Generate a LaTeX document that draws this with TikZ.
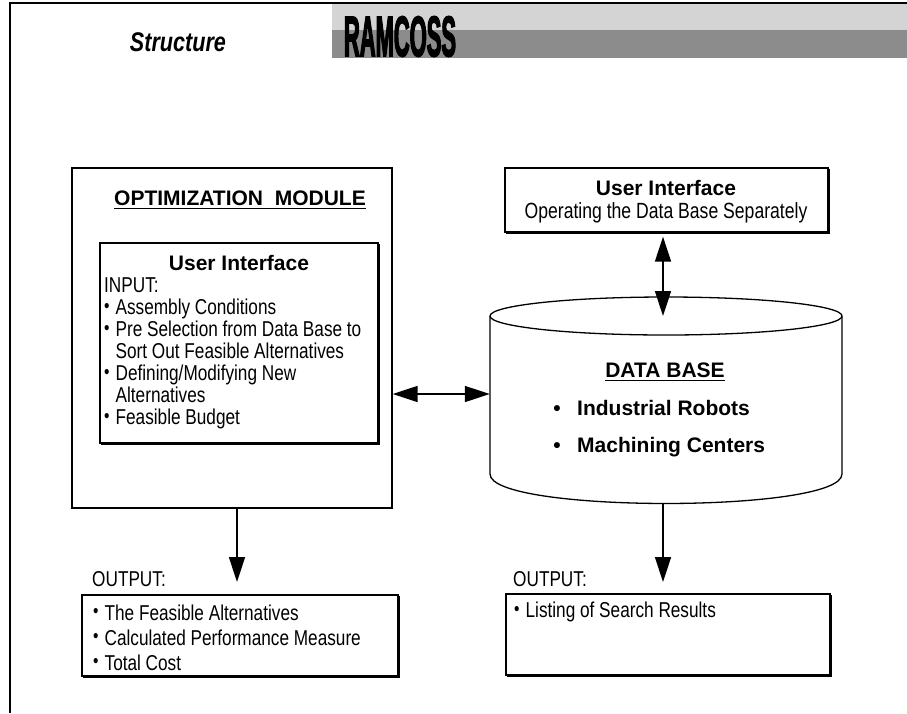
\documentclass[tikz,border=0pt]{standalone}
\usepackage{fontspec}
\setmainfont{Liberation Sans}
\newfontfamily\nar[FakeStretch=0.80]{Liberation Sans}
\newfontfamily\heavy[FakeStretch=0.55,FakeBold=2.5]{Liberation Sans Bold}
\usetikzlibrary{arrows.meta,calc}
\newcommand\mybul{\raisebox{0.22ex}{\scalebox{0.9}{\textbullet}}\hspace{0.28em}}
\begin{document}
\begin{tikzpicture}[x=1pt,y=-1pt,
  boxed/.style={draw, line width=1.3pt, inner sep=0pt},
  nartxt/.style={font=\nar\fontsize{21.5}{22}\selectfont, inner sep=0pt, align=left},
  boldtxt/.style={font=\bfseries\fontsize{21}{24}\selectfont, inner sep=0pt},
  shadowline/.style={line width=1.1pt},
  arr/.style={line width=1.5pt, -{Triangle[length=25pt,width=16pt]}},
  dblarr/.style={line width=1.5pt, {Triangle[length=25pt,width=16pt]}-{Triangle[length=25pt,width=16pt]}}]
\useasboundingbox (0,0) rectangle (907,713);
% header
\fill[black!17] (332,3) rectangle (907,30);
\fill[black!45] (332,30) rectangle (907,58);
\draw[line width=1.2pt] (10,713) -- (10,3) -- (907,3);
\node[font=\nar\bfseries\itshape\fontsize{27}{30}\selectfont, inner sep=0pt] (hdr) at (178,42) {Structure};
\node[inner sep=0pt] (ram) at (400,36.5) {\resizebox{112pt}{40pt}{\heavy RAMCOSS}};

% optimization module
\node[boxed, minimum width=320pt, minimum height=340pt] (opt) at (232,338) {};
\node[boldtxt, anchor=base] (optt) at (240,205.5) {OPTIMIZATION\ \ MODULE};
\draw[line width=1.2pt] ([yshift=-2.5pt]optt.south west) -- ([yshift=-2.5pt]optt.south east);
\node[boxed, minimum width=278pt, minimum height=200pt] (ui1) at (239,343) {};
\node[boldtxt, anchor=base] (ui1t) at (239,270.5) {User Interface};
\node[nartxt, anchor=north west] (ui1l) at (104,277.5) {INPUT:\\ \mybul Assembly Conditions\\ \mybul Pre Selection from Data Base to\\ \hphantom{\mybul}Sort Out Feasible Alternatives\\ \mybul Defining/Modifying New\\ \hphantom{\mybul}Alternatives\\ \mybul Feasible Budget};

% user interface (data base)
\node[boxed, minimum width=323pt, minimum height=64pt] (ui2) at (666.5,200) {};
\node[boldtxt, anchor=base] (ui2t) at (666,195.5) {User Interface};
\node[nartxt, anchor=base, font=\nar\fontsize{22}{22}\selectfont] (ui2s) at (666,218.5) {Operating the Data Base Separately};

% data base cylinder
\draw[line width=1.3pt] (490,316) -- (490,474) .. controls (490,513.3) and (842,513.3) .. (842,474) -- (842,316);
\draw[line width=1.3pt] (666,316) ellipse [x radius=176pt, y radius=19pt];
\node[inner sep=0pt, minimum width=352pt, minimum height=156pt] (db) at (666,394) {};
\coordinate (dbtop) at (663,316);
\coordinate (dbbot) at (663,504);
\node[boldtxt, anchor=base] (dbt) at (665,377.5) {DATA BASE};
\draw[line width=1.2pt] ([yshift=-2.5pt]dbt.south west) -- ([yshift=-2.5pt]dbt.south east);
\node[boldtxt, anchor=base] (b1) at (557,415.5) {\textbullet};
\node[boldtxt, anchor=base west] (i1) at (577,415.5) {Industrial Robots};
\node[boldtxt, anchor=base] (b2) at (557,452.5) {\textbullet};
\node[boldtxt, anchor=base west] (i2) at (577,452.5) {Machining Centers};

% connectors
\draw[dblarr] (opt.east |- db.west) -- (db.west);
\draw[dblarr, shorten <=4pt] (ui2.south -| dbtop) -- (dbtop);
\coordinate (a1) at (237,582);
\draw[arr] (opt.south -| a1) -- (a1);
\coordinate (a2) at (663,582);
\draw[arr] (dbbot) -- (a2);

% outputs
\node[nartxt, anchor=base west] (o1l) at (92,586.5) {OUTPUT:};
\node[boxed, minimum width=316pt, minimum height=81pt] (out1) at (240,635.5) {};
\node[nartxt, anchor=north west, font=\nar\fontsize{21.5}{25}\selectfont] (o1t) at (93,604.5) {\mybul The Feasible Alternatives\\ \mybul Calculated Performance Measure\\ \mybul Total Cost};
\node[nartxt, anchor=base west] (o2l) at (513,586.5) {OUTPUT:};
\node[boxed, minimum width=324pt, minimum height=81pt] (out2) at (668,634.5) {};
\node[nartxt, anchor=base west] (o2t) at (514,617.5) {\mybul Listing of Search Results};

% slight shadow on right and bottom edges
\foreach \b in {ui1,ui2,out1,out2}{
  \draw[shadowline] ([xshift=1.2pt,yshift=-1.5pt]\b.north east) -- ([xshift=1.2pt,yshift=-1.2pt]\b.south east) -- ([xshift=1.5pt,yshift=-1.2pt]\b.south west);
}
\end{tikzpicture}
\end{document}
